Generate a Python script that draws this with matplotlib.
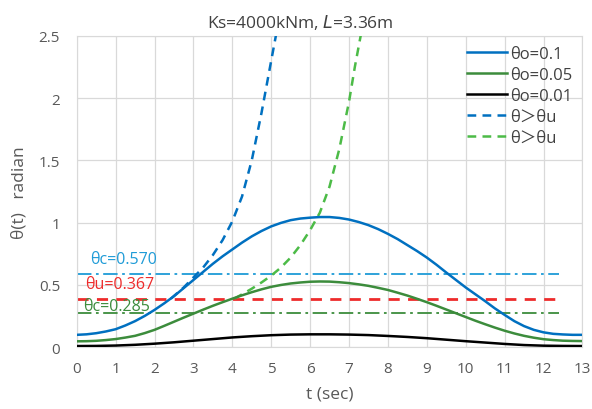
import matplotlib
matplotlib.use('Agg')
import matplotlib.pyplot as plt

plt.rcParams['font.family'] = ['Open Sans', 'Noto Sans CJK JP', 'DejaVu Sans']

# Solid response curves
t = [0, 0.25, 0.5, 0.75, 1, 1.25, 1.5, 1.75, 2, 2.25, 2.5, 2.75, 3, 3.25, 3.5, 3.75, 4, 4.25, 4.5, 4.75,
     5, 5.25, 5.5, 5.75, 6, 6.25, 6.5, 6.75, 7, 7.25, 7.5, 7.75, 8, 8.25, 8.5, 8.75, 9, 9.25, 9.5, 9.75,
     10, 10.25, 10.5, 10.75, 11, 11.25, 11.5, 11.75, 12, 12.25, 12.5, 12.75, 13]
theta_01 = [0.100, 0.104, 0.113, 0.127, 0.145, 0.175, 0.210, 0.252, 0.300, 0.353, 0.410, 0.475, 0.540, 0.605,
            0.670, 0.730, 0.785, 0.840, 0.890, 0.933, 0.970, 0.998, 1.020, 1.033, 1.040, 1.045, 1.045, 1.038,
            1.025, 1.005, 0.980, 0.948, 0.910, 0.868, 0.820, 0.772, 0.720, 0.662, 0.600, 0.540, 0.480, 0.425,
            0.370, 0.312, 0.260, 0.210, 0.170, 0.140, 0.120, 0.108, 0.103, 0.100, 0.100]
theta_005 = [0.048, 0.049, 0.052, 0.058, 0.066, 0.078, 0.092, 0.114, 0.140, 0.172, 0.205, 0.238, 0.270, 0.302,
             0.333, 0.362, 0.390, 0.417, 0.442, 0.465, 0.485, 0.500, 0.512, 0.520, 0.526, 0.528, 0.527, 0.522,
             0.515, 0.505, 0.493, 0.477, 0.460, 0.438, 0.415, 0.389, 0.362, 0.333, 0.303, 0.273, 0.243, 0.213,
             0.185, 0.158, 0.133, 0.111, 0.092, 0.077, 0.065, 0.058, 0.053, 0.051, 0.050]
t_black = [0, 0.5, 1, 1.5, 2, 2.5, 3, 3.5, 4, 4.5, 5, 5.5, 6, 6.5, 7, 7.5, 8, 8.5, 9, 9.5, 10, 10.5, 11, 11.5, 12, 12.5, 13]
theta_001 = [0.010, 0.011, 0.014, 0.020, 0.029, 0.040, 0.053, 0.066, 0.079, 0.089, 0.097, 0.102, 0.104, 0.104,
             0.102, 0.098, 0.091, 0.083, 0.073, 0.061, 0.049, 0.038, 0.027, 0.018, 0.013, 0.011, 0.010]

# Diverging branches (theta > theta_u)
t_blue_div = [2.42, 2.75, 3.0, 3.25, 3.5, 3.75, 4.0, 4.25, 4.5, 4.75, 5.0, 5.15]
theta_blue_div = [0.39, 0.48, 0.56, 0.64, 0.74, 0.86, 1.01, 1.21, 1.50, 1.88, 2.30, 2.55]
t_green_div = [4.05, 4.25, 4.5, 4.75, 5.0, 5.25, 5.5, 5.75, 6.0, 6.25, 6.5, 6.75, 7.0, 7.15, 7.33]
theta_green_div = [0.39, 0.425, 0.47, 0.52, 0.575, 0.64, 0.72, 0.82, 0.94, 1.08, 1.29, 1.59, 1.97, 2.25, 2.55]

# Threshold lines
t_thr = [0, 12.4]
theta_c_blue = 0.59
theta_u = 0.39
theta_c_green = 0.278

fig = plt.figure(figsize=(5.92, 4.10), dpi=100)
ax = fig.add_axes([0.1296, 0.1505, 0.8542, 0.76])

blue = '#0070C0'
green = '#3C8C3C'
lgreen = '#4CBB47'
lblue = '#1E9BD7'
red = '#EE2B2B'

ax.plot(t_thr, [theta_c_blue] * 2, color=lblue, lw=1.3, dashes=(8, 2.5, 1.5, 2.5))
ax.plot(t_thr, [theta_u] * 2, color=red, lw=2.0, dashes=(4, 3))
ax.plot(t_thr, [theta_c_green] * 2, color=green, lw=1.3, dashes=(8, 2.5, 1.5, 2.5))

ax.plot(t_blue_div, theta_blue_div, color=blue, lw=1.8, dashes=(3.5, 2.5), label='θ＞θu', zorder=3)
ax.plot(t_green_div, theta_green_div, color=lgreen, lw=1.8, dashes=(3.5, 2.5), label='θ＞θu', zorder=3)
ax.plot(t, theta_01, color=blue, lw=1.8, label='θo=0.1', zorder=4)
ax.plot(t, theta_005, color=green, lw=1.8, label='θo=0.05', zorder=4)
ax.plot(t_black, theta_001, color='black', lw=1.8, label='θo=0.01', zorder=4)

ax.text(0.34, 0.71, 'θc=0.570', color=lblue, fontsize=11.5, va='center')
ax.text(0.21, 0.51, 'θu=0.367', color=red, fontsize=11.5, va='center')
ax.text(0.16, 0.335, 'θc=0.285', color=green, fontsize=11.5, va='center')

ax.set_xlim(0, 13)
ax.set_ylim(0, 2.5)
ax.set_xticks(range(0, 14))
ax.set_yticks([0, 0.5, 1, 1.5, 2, 2.5])
ax.set_yticklabels(['0', '0.5', '1', '1.5', '2', '2.5'])
ax.grid(True, color='#D9D9D9', lw=0.9)
ax.set_axisbelow(True)
for s in ax.spines.values():
    s.set_color('#D9D9D9')
ax.tick_params(length=0, labelsize=11, labelcolor='#595959', pad=10)
ax.tick_params(axis='y', pad=12)

ax.set_xlabel('t (sec)', fontsize=12.5, color='#595959', labelpad=7)
ax.set_ylabel('θ(t)   radian', fontsize=12.5, color='#595959', labelpad=8)

handles, labels = ax.get_legend_handles_labels()
order = [2, 3, 4, 0, 1]
ax.legend([handles[i] for i in order], [labels[i] for i in order], loc='upper right',
          frameon=False, fontsize=12, handlelength=2.4, handletextpad=0.2,
          labelspacing=0.3, labelcolor='#404040', borderaxespad=0.2)

fig.text(300 / 592, 1 - 23 / 410, 'Ks=4000kNm, $\\it{L}$=3.36m', ha='center', va='center',
         fontsize=12.5, color='#404040')

plt.savefig('out.png', dpi=100)
